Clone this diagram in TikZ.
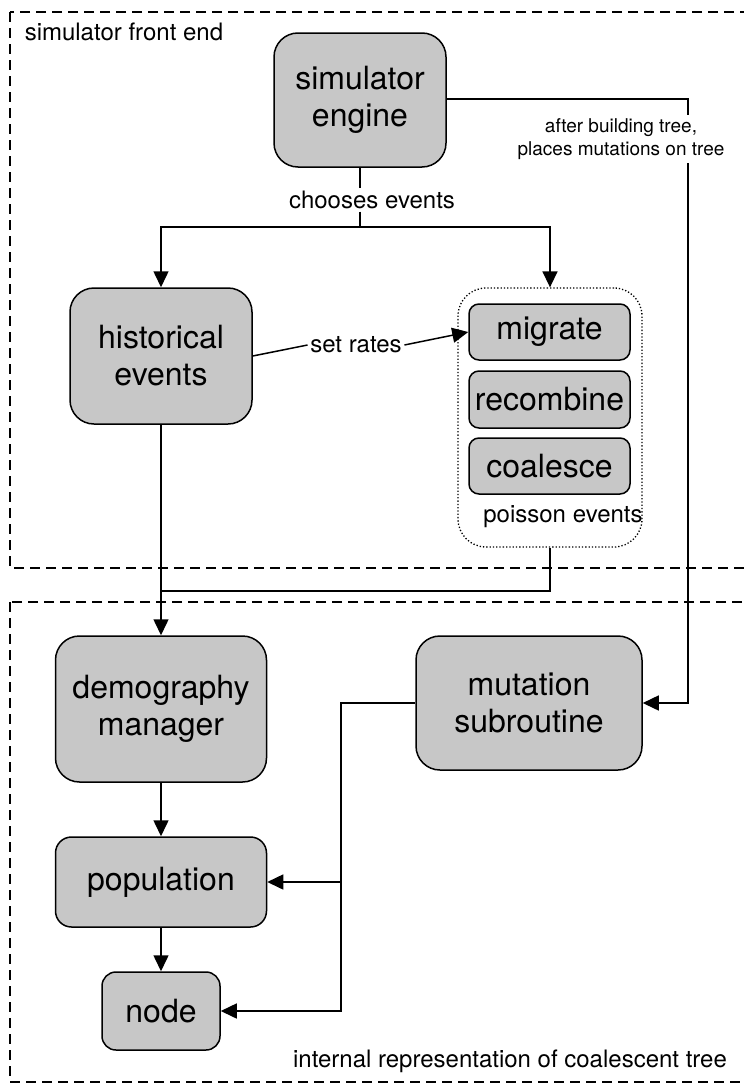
\documentclass[tikz,border=0pt]{standalone}
\usepackage{fontspec}
\setmainfont{TeX Gyre Heros}
\usetikzlibrary{arrows.meta,positioning}

\begin{document}
\begin{tikzpicture}[
  x=1pt,y=-1pt,
  line width=1.5pt,
  >={Triangle[length=16pt,width=15pt]},
  block/.style={draw,fill=black!22,rounded corners=24pt,align=center,inner sep=2pt,
    font=\fontsize{32}{37}\selectfont},
  subblock/.style={draw,fill=black!22,rounded corners=10pt,align=center,inner sep=2pt,
    font=\fontsize{32}{37}\selectfont,minimum width=161pt,minimum height=56pt},
  grp/.style={draw,dotted,line width=1.3pt,rounded corners=28pt,minimum width=184pt,minimum height=259pt},
  frame/.style={draw,dash pattern=on 10pt off 6pt,line width=1.4pt},
  lbl/.style={font=\fontsize{24}{28}\selectfont,inner sep=2pt},
  small/.style={font=\fontsize{19}{23}\selectfont,align=center,fill=white,inner sep=3pt}
]
\useasboundingbox (0,0) rectangle (744,1084);
\clip (0,0) rectangle (744,1084);
\draw[frame] (10,12) rectangle (800,568);
\draw[frame] (10,602) rectangle (800,1082);
\node[lbl,anchor=west] (front) at (22,32) {simulator front end};
\node[lbl] (internal) at (510,1061) {internal representation of coalescent tree};

\node[block,minimum width=172pt,minimum height=134pt] (engine) at (360,100) {simulator\\engine};
\node[block,minimum width=182pt,minimum height=136pt] (hist) at (161,356) {historical\\events};
\node[grp] (poisson) at (550,417.5) {};
\node[subblock] (migrate) at (549.5,332) {migrate};
\node[subblock,minimum height=57pt] (recomb) at (549.5,399.5) {recombine};
\node[subblock] (coal) at (549.5,466) {coalesce};
\node[lbl] (poissonlbl) at (563,517) {poisson events};
\node[block,minimum width=211pt,minimum height=146pt] (demog) at (161,709) {demography\\manager};
\node[block,minimum width=226pt,minimum height=134pt] (mutation) at (529,703) {mutation\\subroutine};
\node[block,minimum width=211pt,minimum height=90pt,rounded corners=16pt] (pop) at (161,882) {population};
\node[block,minimum width=118pt,minimum height=78pt,rounded corners=14pt] (leaf) at (161,1011) {node};

\node[lbl] (chooses) at (372,200) {chooses events};
\node[lbl] (rates) at (356,345) {set rates};
\coordinate (split) at (360,227);
\coordinate (rx) at (688,0);
\coordinate (merge) at (161,591);
\coordinate (bus) at (341,882);

\draw (engine.south) -- (engine.south |- chooses.north);
\draw (split |- chooses.south) -- (split);
\draw[->] (split) -| (hist.north);
\draw[->] (split) -| (poisson.north);
\draw (hist.east) -- (rates.west);
\draw[->] (rates.east) -- (migrate.west);
\draw[->] (hist.south) -- (demog.north);
\draw (poisson.south) |- (merge);
\draw[->] (demog) -- (pop);
\draw[->] (pop.south) -- (leaf.north);
\draw[->] (engine.east |- 0,99) -- (rx |- 0,99) |- (mutation.east);
\node[small] (after) at (621,139) {after building tree,\\places mutations on tree};
\draw[->] (mutation.west) -| (bus) |- (leaf.east);
\draw[->] (bus) -- (pop.east);
\end{tikzpicture}
\end{document}
